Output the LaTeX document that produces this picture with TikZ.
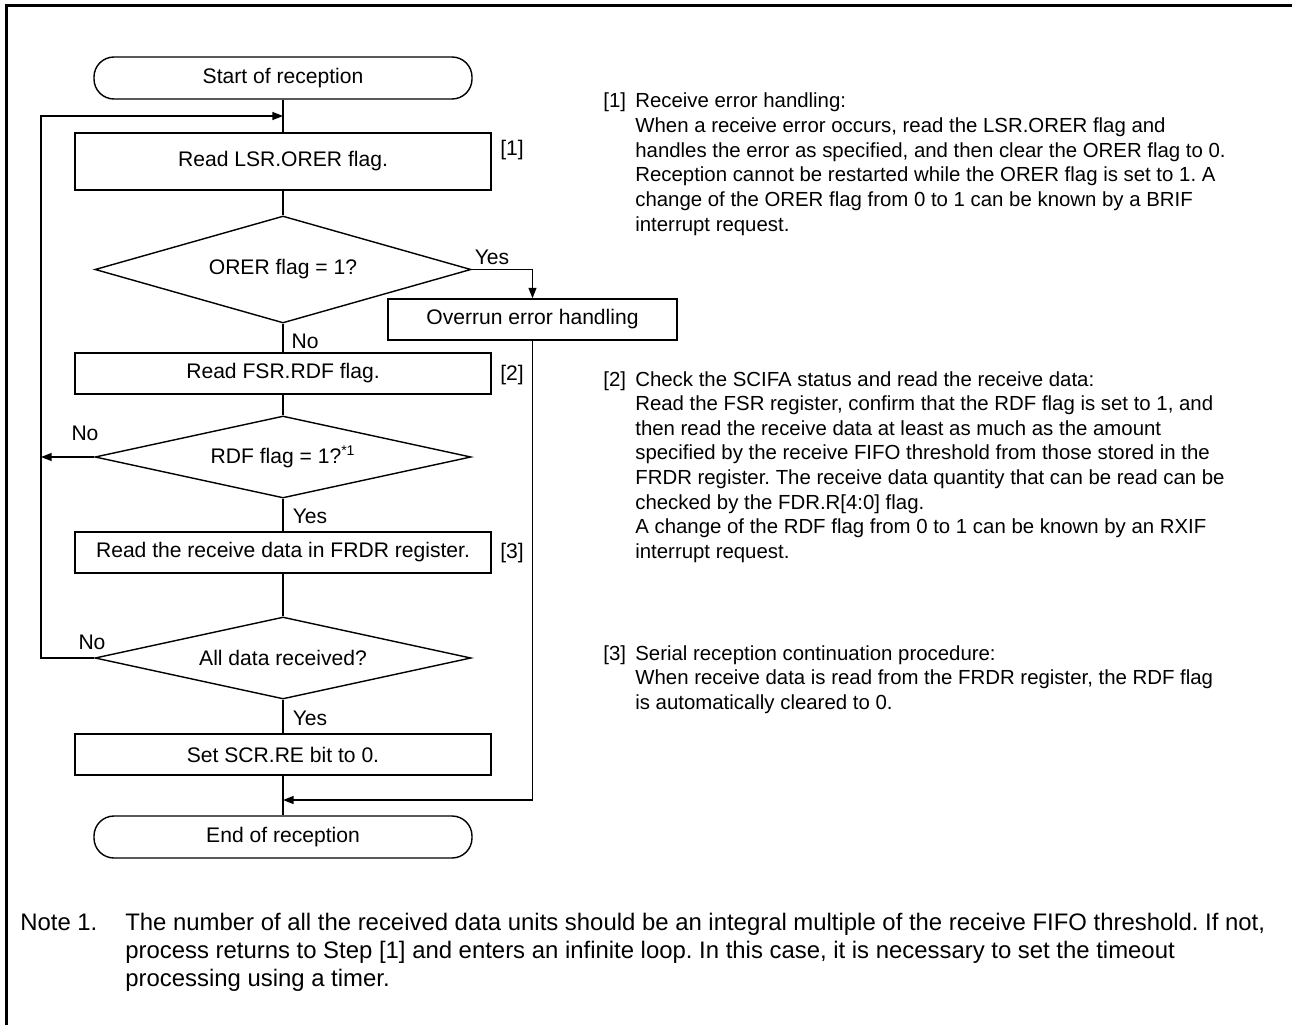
\documentclass[tikz,border=0pt]{standalone}
\usepackage{fontspec}
\setmainfont{Liberation Sans}
\usetikzlibrary{shapes.geometric,arrows.meta}
\frenchspacing

\begin{document}
\begin{tikzpicture}[>={Triangle[length=6pt,width=4.5pt]},
		font=\fontsize{12}{14}\selectfont,
		term_style/.style={rectangle,rounded corners=0.4cm,draw=black,line width=0.8pt,minimum width=7.56cm,minimum height=0.84cm,inner sep=0pt},
		proc_style/.style={rectangle,draw=black,line width=0.8pt,minimum width=8.32cm,minimum height=0.82cm,inner sep=0pt},
		dec_style/.style={diamond,draw=black,line width=0.8pt,shape aspect=3.5,minimum width=7.52cm,minimum height=1.64cm,inner sep=0pt},
		edge_style/.style={draw=black,line width=0.8pt},
		label_style/.style={inner sep=0pt},
		text_style/.style={inner sep=0pt,anchor=base west,font=\fontsize{11.6}{14}\selectfont}]

		\useasboundingbox (0,0) rectangle (25.84,-20.5);
		% page frame, open at the right and the bottom
		\draw[line width=1.8pt] (0.13,-20.5) -- (0.13,-0.11) -- (25.84,-0.11);

		\node[term_style] (n0) at (5.66,-1.56) {Start of reception};
		\node[proc_style,minimum height=1.14cm] (n1) at (5.66,-3.23) {Read LSR.ORER flag.};
		\node[dec_style,minimum height=2.14cm] (n2) at (5.66,-5.39) {ORER flag = 1?};
		\node[proc_style,minimum width=5.78cm] (n3) at (10.65,-6.39) {Overrun error handling};
		\node[proc_style] (n4) at (5.66,-7.47) {Read FSR.RDF flag.};
		\node[dec_style] (n5) at (5.66,-9.14) {RDF flag = 1?\textsuperscript{*1}};
		\node[proc_style] (n6) at (5.66,-11.05) {Read the receive data in FRDR register.};
		\node[dec_style] (n7) at (5.66,-13.16) {All data received?};
		\node[proc_style] (n8) at (5.66,-15.09) {Set SCR.RE bit to 0.};
		\node[term_style] (n9) at (5.66,-16.74) {End of reception};

		\coordinate (m1) at (5.66,-2.32);
		\coordinate (m2) at (5.66,-16.0);
		\coordinate (lp) at (0.82,-2.32);

		\draw[edge_style]  (n0) -- (n1);
		\draw[edge_style]  (n1) -- (n2);
		\draw[edge_style]  (n2) -- (n4);
		\draw[edge_style,->]  (n2.east) -| (n3.north);
		\draw[edge_style,->]  (n3.south) |- (m2);
		\draw[edge_style]  (n4) -- (n5);
		\draw[edge_style,->]  (n5.west) -- (n5.west -| lp);
		\draw[edge_style]  (n5) -- (n6);
		\draw[edge_style]  (n6) -- (n7);
		\draw[edge_style,->]  (n7.west) -| (lp) -- (m1);
		\draw[edge_style]  (n7) -- (n8);
		\draw[edge_style]  (n8) -- (n9);

		\node[label_style] (y1) at (9.84,-5.14) {Yes};
		\node[label_style] (no1) at (6.1,-6.82) {No};
		\node[label_style] (no2) at (1.7,-8.66) {No};
		\node[label_style] (y2) at (6.2,-10.32) {Yes};
		\node[label_style] (no3) at (1.84,-12.84) {No};
		\node[label_style] (y3) at (6.2,-14.36) {Yes};

		\node[label_style] (s1) at (10.24,-3.0) {[1]};
		\node[label_style] (s2) at (10.24,-7.5) {[2]};
		\node[label_style] (s3) at (10.24,-11.06) {[3]};

		% notes on the steps
		\node[text_style] (t1) at (12.06,-2.16) {\begin{tabular}[t]{@{}p{0.64cm}@{}l@{}}
			[1] & Receive error handling:\\
			& When a receive error occurs, read the LSR.ORER flag and\\
			& handles the error as specified, and then clear the ORER flag to 0.\\
			& Reception cannot be restarted while the ORER flag is set to 1. A\\
			& change of the ORER flag from 0 to 1 can be known by a BRIF\\
			& interrupt request.
		\end{tabular}};
		\node[text_style] (t2) at (12.06,-7.72) {\begin{tabular}[t]{@{}p{0.64cm}@{}l@{}}
			[2] & Check the SCIFA status and read the receive data:\\
			& Read the FSR register, confirm that the RDF flag is set to 1, and\\
			& then read the receive data at least as much as the amount\\
			& specified by the receive FIFO threshold from those stored in the\\
			& FRDR register. The receive data quantity that can be read can be\\
			& checked by the FDR.R[4:0] flag.\\
			& A change of the RDF flag from 0 to 1 can be known by an RXIF\\
			& interrupt request.
		\end{tabular}};
		\node[text_style] (t3) at (12.06,-13.2) {\begin{tabular}[t]{@{}p{0.64cm}@{}l@{}}
			[3] & Serial reception continuation procedure:\\
			& When receive data is read from the FRDR register, the RDF flag\\
			& is automatically cleared to 0.
		\end{tabular}};

		\node[text_style,font=\fontsize{13.6}{16}\selectfont] (t4) at (0.4,-18.6) {\begin{tabular}[t]{@{}p{2.1cm}@{}l@{}}
			Note 1. & The number of all the received data units should be an integral multiple of the receive FIFO threshold. If not,\\
			& process returns to Step [1] and enters an infinite loop. In this case, it is necessary to set the timeout\\
			& processing using a timer.
		\end{tabular}};
\end{tikzpicture}
\end{document}
